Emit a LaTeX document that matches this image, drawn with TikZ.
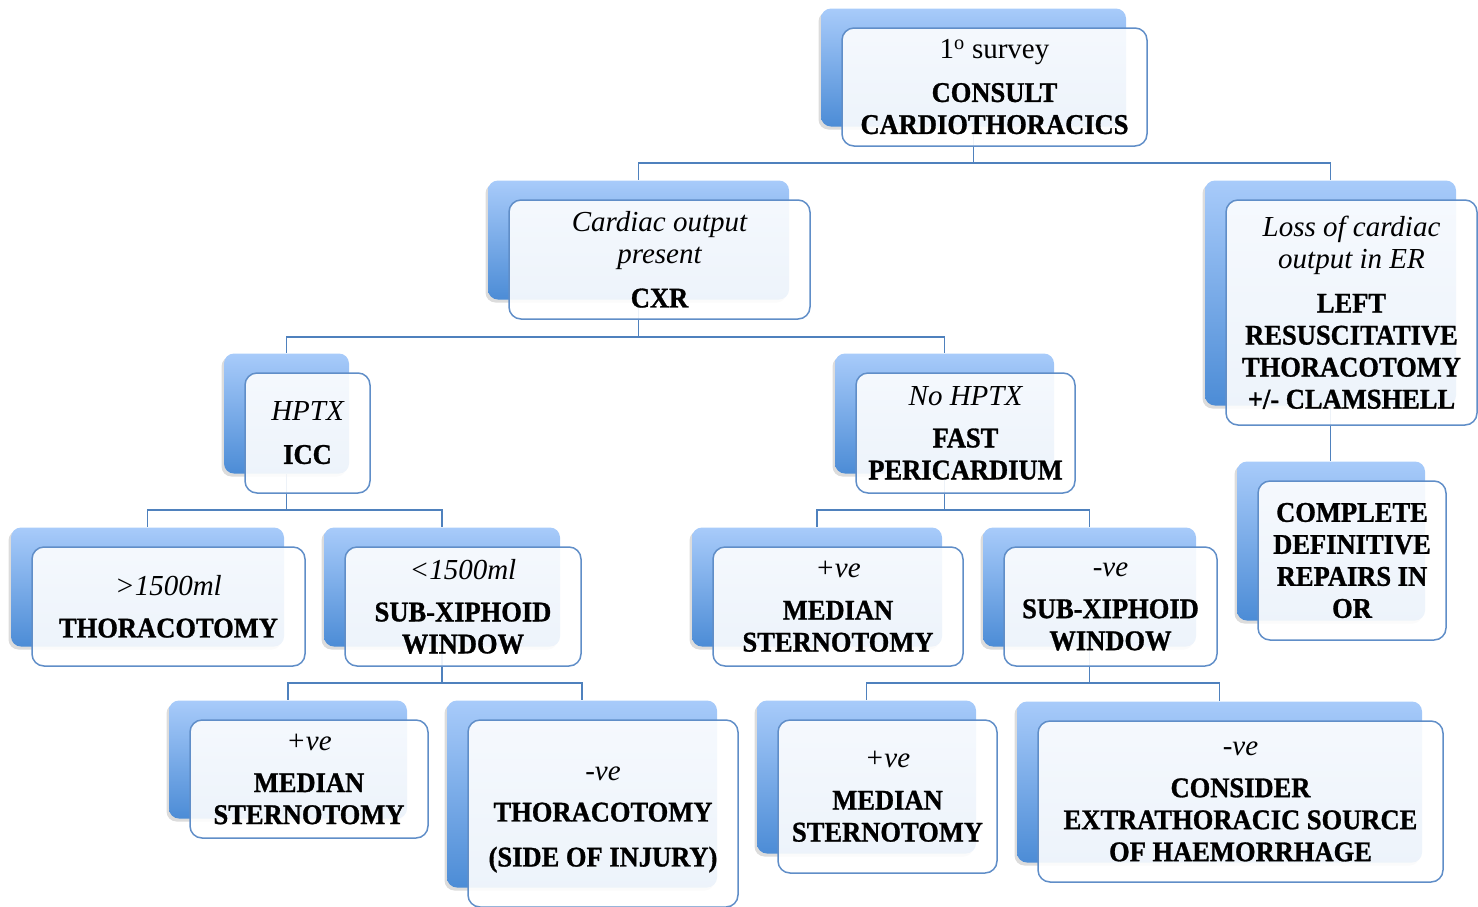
\documentclass[tikz,border=0pt]{standalone}
\usepackage{fontspec}
\setmainfont{Liberation Serif}[BoldFeatures={FakeStretch=0.93,FakeBold=1}]
\usetikzlibrary{shadows}
\pgfdeclarelayer{bg}
\pgfsetlayers{bg,main}

\definecolor{linkblue}{RGB}{79,129,189}
\definecolor{edgeblue}{RGB}{96,142,200}
\definecolor{backtop}{RGB}{168,203,250}
\definecolor{backbot}{RGB}{76,140,214}

\tikzset{
  backbox/.style={rectangle, rounded corners=10pt, top color=backtop,
    bottom color=backbot, draw=none, inner sep=0pt,
    drop shadow={opacity=0.28, shadow xshift=-2.5pt, shadow yshift=-3pt}},
  frontbox/.style={rectangle, rounded corners=12pt, draw=edgeblue,
    line width=1.5pt, fill=white, fill opacity=0.9, text opacity=1,
    inner sep=0pt, align=center,
    font=\fontsize{28.5}{32}\selectfont\bfseries},
  conn/.style={draw=linkblue, line width=1.6pt},
}

% condition line (italic) and plain line above the bold actions
\newcommand\cond[1]{{\fontsize{29}{32}\selectfont\mdseries\itshape #1}}
\newcommand\plainline[1]{{\fontsize{29}{32}\selectfont\mdseries #1}}

% \card{name}{x1}{y1}{x2}{y2}{text}: shaded plate behind, white card in front
\newcommand\card[6]{%
  \node[backbox, minimum width={#4-#2}, minimum height={#5-#3}] (#1b)
    at ({(#2+#4)/2-21},{(#3+#5)/2-19.5}) {};
  \node[frontbox, minimum width={#4-#2}, minimum height={#5-#3}] (#1)
    at ({(#2+#4)/2},{(#3+#5)/2}) {#6};
}

\begin{document}
\begin{tikzpicture}[x=1pt,y=-1pt]
\useasboundingbox (0,0) rectangle (1478,906);
\clip (0,0) rectangle (1478,906);

\card{n1}{842}{28}{1147}{146}{\plainline{1\textsuperscript{o} survey}\\[11pt]CONSULT\\CARDIOTHORACICS}
\card{n2}{509}{200}{810}{319}{\cond{Cardiac output}\\\cond{present}\\[12pt]CXR}
\card{n3}{245}{373}{370}{493}{\cond{HPTX}\\[11pt]ICC}
\card{n4}{856}{373}{1075}{493}{\cond{No HPTX}\\[10pt]FAST\\PERICARDIUM}
\card{n5}{1226}{200}{1477}{425}{\cond{Loss of cardiac}\\\cond{output in ER}\\[12pt]LEFT\\RESUSCITATIVE\\THORACOTOMY\\+/- CLAMSHELL}
\card{n6}{1258}{481}{1446}{640}{COMPLETE\\DEFINITIVE\\REPAIRS IN\\OR}
\card{n7}{32}{547}{305}{666}{\cond{>1500ml}\\[10pt]THORACOTOMY}
\card{n8}{345}{547}{581}{666}{\cond{<1500ml}\\[10pt]SUB-XIPHOID\\WINDOW}
\card{n9}{713}{547}{963}{666}{\cond{+ve}\\[10pt]MEDIAN\\STERNOTOMY}
\card{n10}{1004}{547}{1217}{666}{\cond{-ve}\\[10pt]SUB-XIPHOID\\WINDOW}
\card{n11}{190}{720}{428}{838}{\cond{+ve}\\[10pt]MEDIAN\\STERNOTOMY}
\card{n12}{468}{720}{738}{907}{\rule{0pt}{26pt}\cond{-ve}\\[9pt]THORACOTOMY\\[13pt](SIDE OF INJURY)}
\card{n13}{778}{720}{997}{873}{\cond{+ve}\\[10pt]MEDIAN\\STERNOTOMY}
\card{n14}{1038}{721}{1443}{882}{\cond{-ve}\\[10pt]CONSIDER\\EXTRATHORACIC SOURCE\\OF HAEMORRHAGE}

\begin{pgfonlayer}{bg}
  \coordinate (r1) at (0,163);
  \coordinate (r2) at (0,337);
  \coordinate (r3) at (0,510);
  \coordinate (r4) at (0,683);
  % first survey splits on cardiac output
  \draw[conn] (n1b.south) -- (n1b.south |- r1) -| (n2b.north);
  \draw[conn] (n1b.south |- r1) -| (n5b.north);
  \draw[conn] (n5b.south) -- (n5b.south |- n6b.north);
  % chest x-ray
  \draw[conn] (n2b.south) -- (n2b.south |- r2) -| (n3b.north);
  \draw[conn] (n2b.south |- r2) -| (n4b.north);
  % haemothorax branch
  \draw[conn] (n3b.south) -- (n3b.south |- r3) -| (n7b.north);
  \draw[conn] (n3b.south |- r3) -| (n8b.north);
  \draw[conn] (n8b.south) -- (n8b.south |- r4) -| (n11b.north);
  \draw[conn] (n8b.south |- r4) -| (n12b.north);
  % FAST branch
  \draw[conn] (n4b.south) -- (n4b.south |- r3) -| (n9b.north);
  \draw[conn] (n4b.south |- r3) -| (n10b.north);
  \draw[conn] (n10b.south) -- (n10b.south |- r4) -| (n13b.north);
  \draw[conn] (n10b.south |- r4) -| (n14b.north);
\end{pgfonlayer}
\end{tikzpicture}
\end{document}
